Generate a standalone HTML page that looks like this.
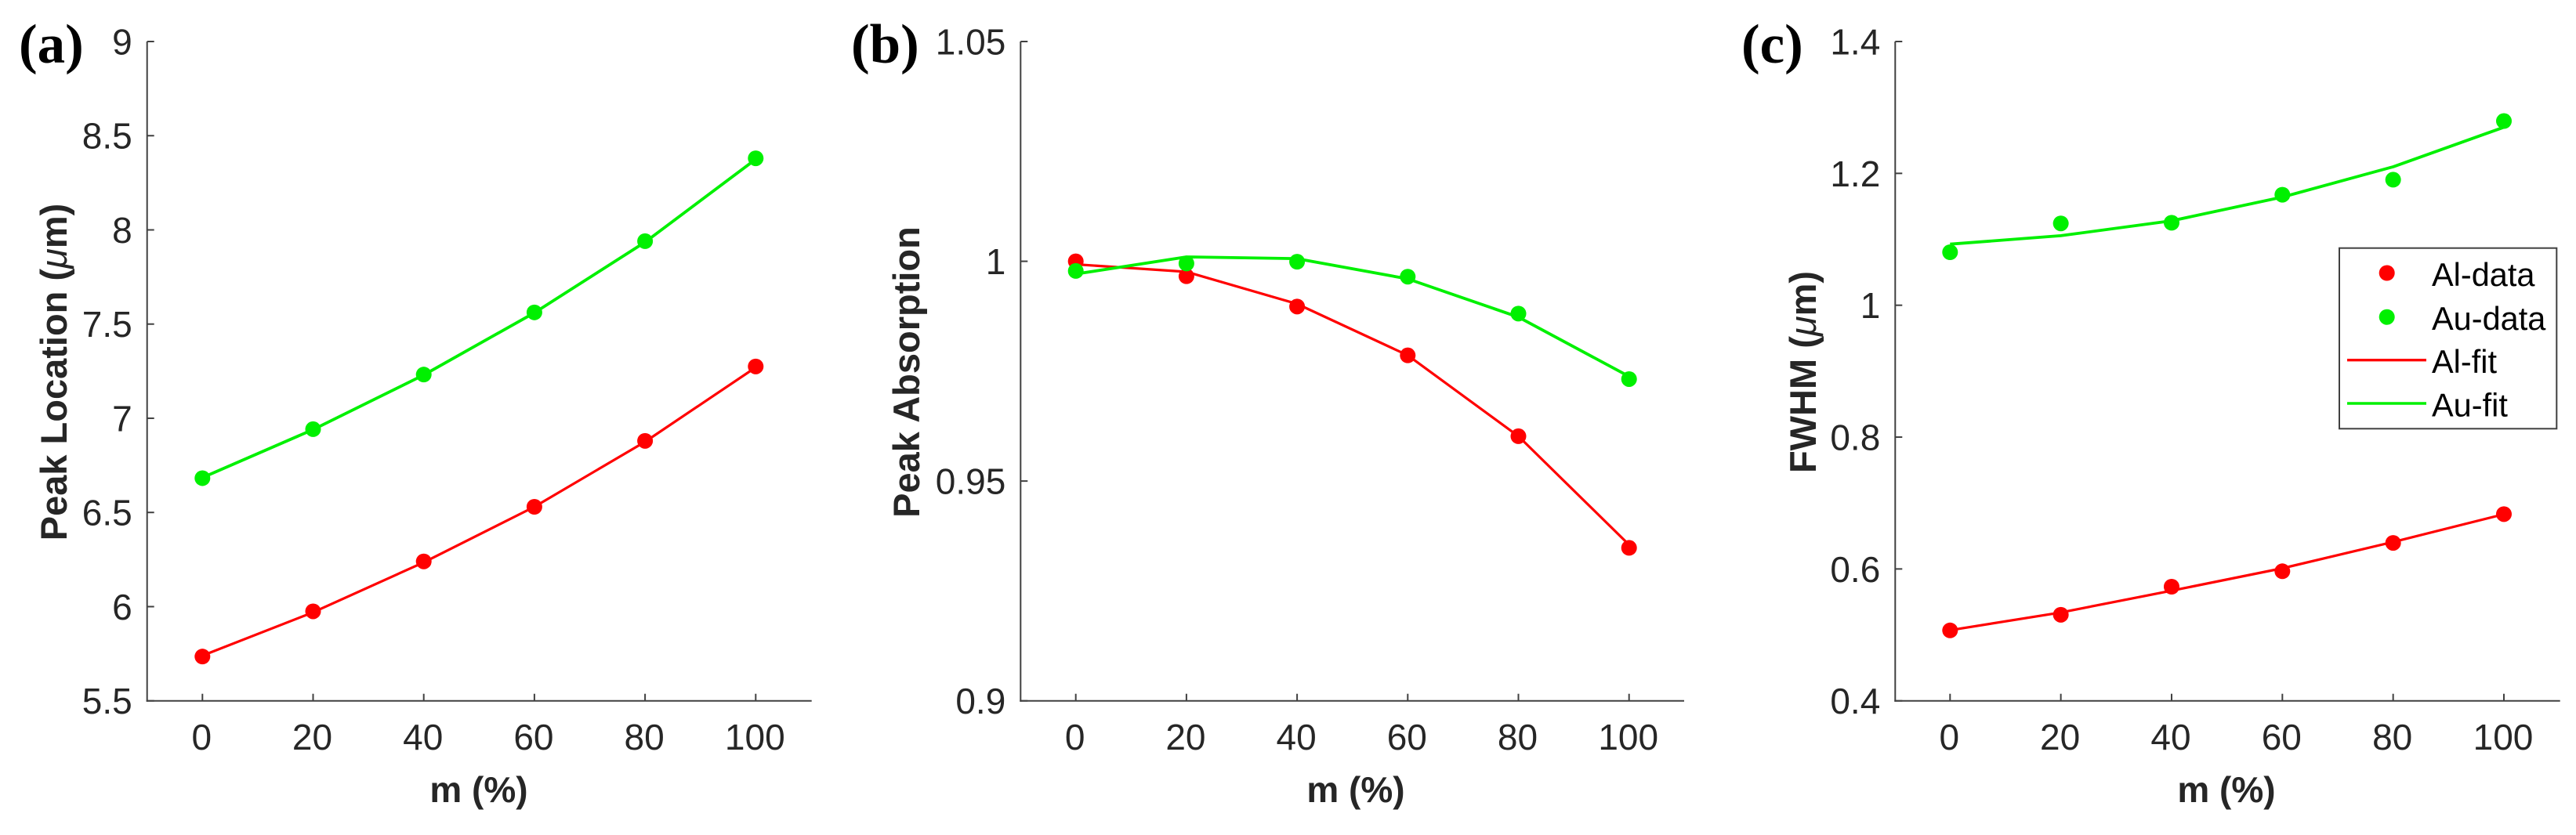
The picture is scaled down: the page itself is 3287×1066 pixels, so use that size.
<!DOCTYPE html>
<html lang="en">
<head>
<meta charset="utf-8">
<title>Peak location, absorption and FWHM versus m</title>
<style>
html,body{margin:0;padding:0;background:#fff;}
svg{display:block;}
text{font-family:"Liberation Sans",Arial,sans-serif;}
</style>
</head>
<body>
<svg id="figure" xmlns="http://www.w3.org/2000/svg" width="3287" height="1066" viewBox="0 0 3287 1066">
<rect x="0" y="0" width="3287" height="1066" fill="#ffffff"/>
</svg>
<script>
// ---- Data ----
const mValues = [0, 20, 40, 60, 80, 100];
const mTickLabels = ['0', '20', '40', '60', '80', '100'];

const aYTicks = [5.5, 6, 6.5, 7, 7.5, 8, 8.5, 9];
const aYTickLabels = ['5.5', '6', '6.5', '7', '7.5', '8', '8.5', '9'];
const aAlData = [5.735, 5.975, 6.24, 6.53, 6.88, 7.275];
const aAuData = [6.682, 6.942, 7.232, 7.562, 7.94, 8.38];
const aAlFit = [5.74, 5.97, 6.235, 6.53, 6.875, 7.27];
const aAuFit = [6.685, 6.94, 7.23, 7.56, 7.935, 8.375];

const bYTicks = [0.9, 0.95, 1, 1.05];
const bYTickLabels = ['0.9', '0.95', '1', '1.05'];
const bAlData = [1.0, 0.9966, 0.9897, 0.9786, 0.9602, 0.9348];
const bAuData = [0.9978, 0.9995, 0.9999, 0.9965, 0.9881, 0.9732];
const bAlFit = [0.9993, 0.9976, 0.9903, 0.9786, 0.9602, 0.9355];
const bAuFit = [0.9971, 1.001, 1.0006, 0.996, 0.9873, 0.9738];

const cYTicks = [0.4, 0.6, 0.8, 1, 1.2, 1.4];
const cYTickLabels = ['0.4', '0.6', '0.8', '1', '1.2', '1.4'];
const cAlData = [0.5068, 0.5305, 0.5731, 0.5965, 0.6395, 0.6832];
const cAuData = [1.0804, 1.1241, 1.1251, 1.1676, 1.1904, 1.2794];
const cAlFit = [0.507, 0.534, 0.567, 0.601, 0.641, 0.683];
const cAuFit = [1.0926, 1.1055, 1.128, 1.164, 1.21, 1.27];

const legendLabels = ['Al-data', 'Au-data', 'Al-fit', 'Au-fit'];

// ---- Drawing ----
const NS = 'http://www.w3.org/2000/svg';
const svg = document.getElementById('figure');
const RED = '#ff0000';
const GREEN = '#00f000';
const AXIS = '#404040';
const INK = '#262626';

function make(tag, attrs, parent, txt) {
  const el = document.createElementNS(NS, tag);
  for (const k in attrs) el.setAttribute(k, attrs[k]);
  if (txt !== undefined) el.textContent = txt;
  parent.appendChild(el);
  return el;
}

const panels = [
  { id: 'a', tag: '(a)', tagX: 24, left: 187.7, x0: 258.3, x100: 964.3, right: 1035.7,
    yMin: 5.5, yMax: 9, yTicks: aYTicks, yLabels: aYTickLabels,
    al: aAlData, au: aAuData, alFit: aAlFit, auFit: aAuFit,
    yTitle: 'Peak Location (', micro: true, yTitleX: 85, xTitleX: 611 },
  { id: 'b', tag: '(b)', tagX: 1086, left: 1302.3, x0: 1372.7, x100: 2078.7, right: 2149,
    yMin: 0.9, yMax: 1.05, yTicks: bYTicks, yLabels: bYTickLabels,
    al: bAlData, au: bAuData, alFit: bAlFit, auFit: bAuFit,
    yTitle: 'Peak Absorption', micro: false, yTitleX: 1173, xTitleX: 1730 },
  { id: 'c', tag: '(c)', tagX: 2222, left: 2418.3, x0: 2488.3, x100: 3195, right: 3266.7,
    yMin: 0.4, yMax: 1.4, yTicks: cYTicks, yLabels: cYTickLabels,
    al: cAlData, au: cAuData, alFit: cAlFit, auFit: cAuFit,
    yTitle: 'FWHM (', micro: true, yTitleX: 2317, xTitleX: 2841 }
];

const TOP = 53;
const BOTTOM = 894.7;

panels.forEach(function (p) {
  const sx = function (v) { return p.x0 + (v / 100) * (p.x100 - p.x0); };
  const sy = function (v) { return BOTTOM - (v - p.yMin) / (p.yMax - p.yMin) * (BOTTOM - TOP); };

  const g = make('g', {}, svg);
  
  

  const tag = make('text', { x: p.tagX, y: 80, fill: '#000', 'font-size': 71, 'font-weight': 'bold', style: 'font-family:"Liberation Serif",serif' }, g, p.tag);
  
  

  const yAxis = make('line', { x1: p.left, x2: p.left, y1: TOP, y2: BOTTOM + 1, stroke: AXIS, 'stroke-width': 2 }, g);
  
  

  const xAxis = make('line', { x1: p.left - 1, x2: p.right, y1: BOTTOM, y2: BOTTOM, stroke: AXIS, 'stroke-width': 2 }, g);
  
  

  p.yTicks.forEach(function (v, i) {
    const y = sy(v);
    const t = make('line', { x1: p.left, x2: p.left + 9, y1: y, y2: y, stroke: AXIS, 'stroke-width': 2 }, g);
    
    
    const l = make('text', { x: p.left - 19, y: y + 16.5, 'text-anchor': 'end', fill: INK, 'font-size': 46 }, g, p.yLabels[i]);
    
    
  });

  mValues.forEach(function (v, i) {
    const x = sx(v);
    const t = make('line', { x1: x, x2: x, y1: BOTTOM - 9, y2: BOTTOM, stroke: AXIS, 'stroke-width': 2 }, g);
    
    
    const l = make('text', { x: x - 1, y: 957, 'text-anchor': 'middle', fill: INK, 'font-size': 46 }, g, mTickLabels[i]);
    
    
  });

  const xt = make('text', { x: p.xTitleX, y: 1024, 'text-anchor': 'middle', fill: INK, 'font-size': 46, 'font-weight': 'bold' }, g, 'm (%)');
  
  

  const yt = make('text', { x: 0, y: 0, 'text-anchor': 'middle', fill: INK, 'font-size': 47, 'font-weight': 'bold', transform: 'translate(' + p.yTitleX + ',475) rotate(-90)' }, g, p.yTitle);
  
  
  if (p.micro) {
    make('tspan', { 'font-style': 'italic', 'font-weight': 'normal' }, yt, 'μ');
    make('tspan', {}, yt, 'm)');
  }

  const linePts = function (arr) {
    return arr.map(function (v, i) { return sx(mValues[i]).toFixed(1) + ',' + sy(v).toFixed(1); }).join(' ');
  };

  const alLine = make('polyline', { points: linePts(p.alFit), fill: 'none', stroke: RED, 'stroke-width': 3.2, 'stroke-linejoin': 'round' }, g);
  
  

  const auLine = make('polyline', { points: linePts(p.auFit), fill: 'none', stroke: GREEN, 'stroke-width': 3.8, 'stroke-linejoin': 'round' }, g);
  
  

  p.al.forEach(function (v, i) {
    const c = make('circle', { cx: sx(mValues[i]), cy: sy(v), r: 10, fill: RED }, g);
    
    
  });
  p.au.forEach(function (v, i) {
    const c = make('circle', { cx: sx(mValues[i]), cy: sy(v), r: 10, fill: GREEN }, g);
    
    
  });
});

// Legend
const legend = make('g', {}, svg);



const legendBox = make('rect', { x: 2985, y: 316.7, width: 277.3, height: 230.6, fill: '#fff', stroke: '#404040', 'stroke-width': 2 }, legend);



const legendSwatchX = 3045.7;
const legendRowY = [348.5, 404.7, 459.7, 515];
const legendColors = [RED, GREEN, RED, GREEN];
legendLabels.forEach(function (label, i) {
  if (i < 2) {
    const m = make('circle', { cx: legendSwatchX, cy: legendRowY[i], r: 10, fill: legendColors[i] }, legend);
    
    
  } else {
    const s = make('line', { x1: 2995, x2: 3096, y1: legendRowY[i], y2: legendRowY[i], stroke: legendColors[i], 'stroke-width': 3.4 }, legend);
    
    
  }
  const t = make('text', { x: 3103, y: legendRowY[i] + 16.5, fill: '#000', 'font-size': 41.5 }, legend, label);
  
  
});
</script>
</body>
</html>
